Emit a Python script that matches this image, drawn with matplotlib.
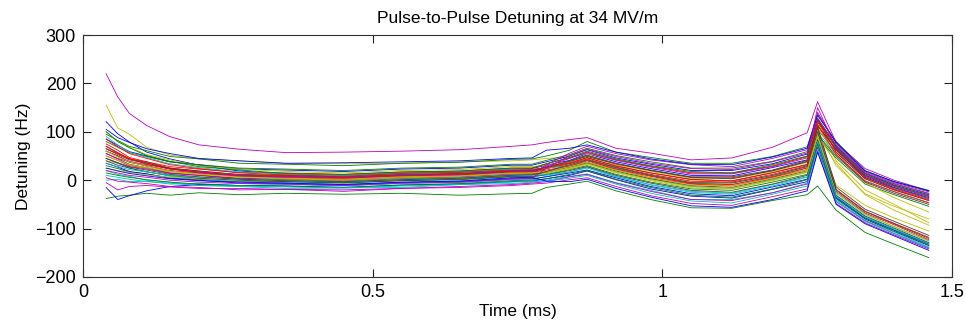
import matplotlib

matplotlib.use("Agg")
import matplotlib.pyplot as plt

# sample times (ms) shared by every pulse trace
t_ms = [0.04, 0.06, 0.08, 0.11, 0.15, 0.20, 0.27, 0.35, 0.45, 0.55, 0.65, 0.74, 0.775,
        0.80, 0.84, 0.87, 0.92, 0.98, 1.05, 1.12, 1.19, 1.25, 1.268, 1.30, 1.35, 1.40, 1.46]

# detuning (Hz) per pulse
p01 = [121, 96, 79, 58, 44, 31, 19, 13, 10, 15, 17, 23, 24, 31, 41, 55, 38, 24, 10, 9, 26, 42, 113, 64, 8, -15, -36]
p02 = [-38, -33, -31, -27, -31, -26, -30, -27, -29, -27, -31, -28, -27, -15, -8, -2, -22, -40, -57, -58, -42, -30, -12, -62, -108, -132, -160]
p03 = [75, 62, 47, 38, 25, 19, 11, 8, 5, 10, 12, 18, 18, 27, 38, 51, 33, 20, 5, 5, 19, 39, 120, 62, 6, -18, -40]
p04 = [0, 2, -3, -2, -8, -7, -11, -9, -12, -7, -5, 1, 1, 8, 17, 27, 8, -9, -23, -27, -9, 7, 82, -32, -75, -101, -130]
p05 = [220, 172, 138, 113, 90, 73, 64, 57, 58, 60, 63, 70, 73, 78, 84, 88, 66, 56, 42, 46, 68, 98, 162, 78, 24, 0, -22]
p06 = [155, 108, 95, 68, 52, 44, 40, 35, 34, 35, 38, 40, 42, 45, 48, 55, 43, 28, 16, 14, 30, 48, 118, 40, -20, -50, -88]
p07 = [60, 50, 37, 30, 19, 14, 7, 5, 2, 7, 9, 15, 15, 24, 35, 47, 29, 15, 2, -2, 16, 32, 105, 58, 3, -20, -42]
p08 = [-15, -40, -32, -22, -13, -9, -11, -12, -15, -10, -8, -3, -2, 3, 10, 19, 1, -18, -33, -37, -19, -3, 75, -38, -80, -106, -135]
p09 = [95, 82, 70, 61, 49, 44, 35, 33, 30, 35, 37, 43, 44, 50, 62, 80, 58, 47, 35, 35, 49, 69, 136, 80, 20, -3, -21]
p10 = [50, 41, 30, 25, 15, 11, 4, 3, 0, 5, 7, 13, 13, 18, 29, 37, 22, 5, -8, -12, 6, 22, 100, -23, -68, -92, -123]
p11 = [20, 12, 8, 0, -4, -11, -13, -17, -16, -15, -9, -7, -4, 0, 8, 13, -5, -21, -40, -40, -26, -6, 70, -41, -83, -107, -138]
p12 = [5, -2, -4, -7, -13, -15, -20, -19, -23, -17, -15, -11, -8, -6, 1, 5, -13, -32, -48, -52, -34, -18, 60, -48, -88, -113, -142]
p13 = [40, 35, 28, 25, 18, 16, 11, 11, 8, 13, 15, 21, 21, 25, 31, 43, 25, 11, -4, -5, 9, 29, 102, 30, -28, -54, -80]
p14 = [70, 57, 44, 36, 23, 17, 9, 7, 4, 9, 11, 17, 17, 27, 40, 52, 35, 21, 7, 7, 21, 41, 112, 63, 5, -16, -38]
p15 = [85, 72, 59, 50, 38, 32, 23, 21, 18, 23, 25, 31, 31, 38, 50, 63, 46, 33, 20, 20, 34, 54, 124, 70, 13, -10, -30]
p16 = [30, 24, 17, 13, 5, 2, -3, -3, -6, -1, 1, 7, 7, 12, 22, 30, 12, -4, -18, -21, -4, 12, 88, 46, -8, -30, -54]
p17 = [65, 55, 44, 38, 28, 23, 16, 15, 12, 17, 19, 25, 25, 34, 46, 58, 42, 29, 15, 15, 29, 49, 128, 67, 10, -12, -33]
p18 = [45, 35, 25, 18, 8, 3, -3, -5, -8, -4, -1, 5, 5, 13, 24, 35, 17, 2, -13, -17, 1, 17, 92, -26, -70, -96, -125]
p19 = [-5, -20, -13, -11, -14, -17, -17, -19, -20, -17, -13, -9, -6, -3, 7, 12, -6, -23, -40, -42, -26, -8, 68, -44, -84, -110, -140]
p20 = [100, 80, 68, 53, 42, 30, 23, 18, 15, 20, 22, 28, 28, 31, 38, 49, 32, 18, 4, 3, 17, 37, 108, 55, -5, -36, -66]
p21 = [55, 44, 33, 26, 15, 10, 3, 1, -2, 3, 5, 11, 11, 16, 27, 36, 19, 3, -11, -15, 3, 19, 93, 50, -4, -27, -50]
p22 = [35, 27, 18, 13, 4, 0, -6, -7, -10, -5, -3, 3, 3, 7, 15, 21, 5, -13, -28, -32, -14, 2, 78, -35, -78, -103, -132]
p23 = [80, 68, 57, 49, 38, 32, 25, 23, 20, 25, 27, 33, 33, 41, 53, 66, 51, 38, 25, 25, 39, 59, 128, 73, 15, -7, -27]
p24 = [60, 50, 39, 32, 23, 17, 10, 9, 6, 11, 13, 19, 19, 24, 34, 44, 27, 12, -2, -4, 12, 30, 110, -19, -64, -89, -118]
p25 = [90, 73, 58, 47, 34, 26, 17, 13, 10, 15, 17, 23, 23, 25, 30, 41, 24, 9, -6, -9, 8, 26, 98, 54, -1, -23, -46]
p26 = [45, 36, 28, 23, 14, 10, 4, 3, 0, 5, 7, 13, 13, 32, 56, 70, 55, 42, 32, 28, 45, 63, 140, 76, 17, -5, -24]
p27 = [25, 20, 16, 11, 6, 3, -1, -1, -4, 1, 3, 9, 9, 14, 23, 33, 15, -1, -16, -18, -1, 16, 89, -27, -71, -96, -126]
p28 = [40, 31, 25, 17, 10, 4, 0, -3, -5, -1, 2, 8, 8, 11, 20, 28, 10, -6, -21, -25, -8, 10, 84, -31, -74, -99, -129]
p29 = [105, 88, 78, 65, 55, 45, 40, 35, 36, 38, 40, 45, 46, 62, 66, 73, 58, 44, 33, 32, 48, 66, 134, 78, 19, -3, -22]
p30 = [15, 10, 6, 1, -4, -8, -11, -12, -15, -10, -7, -1, 0, 3, 12, 20, 2, -15, -31, -35, -18, 1, 76, -37, -79, -104, -134]
p31 = [70, 56, 45, 33, 24, 15, 10, 5, 3, 8, 10, 16, 16, 21, 29, 40, 23, 8, -7, -9, 7, 25, 115, 53, -2, -24, -47]
p32 = [10, 6, 2, -3, -6, -11, -12, -14, -16, -12, -9, -4, -2, -2, 4, 10, -8, -27, -43, -47, -29, -12, 64, -44, -85, -110, -140]
p33 = [55, 45, 38, 29, 20, 15, 9, 7, 5, 10, 12, 18, 18, 29, 45, 57, 41, 27, 13, 13, 28, 46, 150, 66, 9, -13, -34]
p34 = [50, 41, 32, 26, 17, 12, 6, 4, 2, 7, 9, 15, 15, 19, 28, 37, 21, 5, -10, -12, 4, 22, 95, -10, -52, -78, -105]
p35 = [65, 53, 42, 35, 25, 19, 12, 10, 7, 12, 14, 20, 20, 27, 39, 49, 34, 20, 6, 3, 20, 38, 109, -14, -60, -85, -114]
p36 = [25, 19, 14, 9, 3, -1, -4, -6, -9, -4, -2, 5, 6, -2, -3, 2, -17, -35, -53, -56, -40, -22, 58, -50, -90, -115, -145]
p37 = [100, 80, 67, 51, 39, 28, 21, 14, 12, 17, 19, 25, 25, 34, 47, 60, 44, 30, 18, 15, 32, 50, 121, 68, 11, -11, -32]
p38 = [85, 69, 55, 45, 32, 24, 15, 11, 8, 14, 16, 21, 22, 26, 36, 46, 30, 15, 1, -1, 15, 33, 125, 58, 3, -20, -42]
p39 = [35, 28, 22, 17, 10, 6, 2, 0, -3, 2, 5, 11, 11, 11, 17, 25, 7, -10, -25, -29, -12, 6, 80, -33, -76, -101, -131]
p40 = [20, 15, 10, 6, 0, -4, -7, -8, -11, -6, -4, 2, 4, 25, 51, 64, 49, 35, 24, 22, 38, 56, 126, 72, 14, -8, -28]
p41 = [60, 48, 38, 29, 19, 13, 6, 3, 0, 5, 8, 14, 15, 17, 25, 34, 17, 1, -14, -16, 0, 18, 92, 35, -30, -62, -93]
p42 = [45, 36, 27, 21, 12, 7, 2, -1, -3, 1, 4, 10, 11, 18, 32, 42, 26, 10, -5, -6, 10, 28, 100, -20, -65, -90, -120]

pulses = [p01, p02, p03, p04, p05, p06, p07, p08, p09, p10, p11, p12, p13, p14,
          p15, p16, p17, p18, p19, p20, p21, p22, p23, p24, p25, p26, p27, p28,
          p29, p30, p31, p32, p33, p34, p35, p36, p37, p38, p39, p40, p41, p42]

# old matlab colour order: b g r c m y k
line_colors = [(0, 0, 1), (0, 0.5, 0), (1, 0, 0), (0, 0.75, 0.75),
               (0.75, 0, 0.75), (0.75, 0.75, 0), (0.25, 0.25, 0.25)]

plt.rcParams["font.family"] = ["Liberation Sans", "DejaVu Sans"]

fig = plt.figure(figsize=(9.66, 3.25), dpi=100)
ax = fig.add_axes([0.0859, 0.1477, 0.8996, 0.7446])

for i, vals in enumerate(pulses):
    ax.plot(t_ms, vals, color=line_colors[i % len(line_colors)], linewidth=0.6)

ax.set_xlim(0, 1.5)
ax.set_ylim(-200, 300)
ax.set_xticks([0, 0.5, 1, 1.5])
ax.set_xticklabels(["0", "0.5", "1", "1.5"])
ax.set_yticks([-200, -100, 0, 100, 200, 300])

ax.tick_params(direction="in", length=6, width=0.8, top=True, right=True,
               labelsize=13, pad=5, color="#222222")
for side in ax.spines.values():
    side.set_linewidth(0.8)
    side.set_color("#333333")

ax.set_title("Pulse-to-Pulse Detuning at 34 MV/m", fontsize=12.5, pad=9)
ax.set_xlabel("Time (ms)", fontsize=12.5, labelpad=2)
ax.set_ylabel("Detuning (Hz)", fontsize=12.5, labelpad=3)

fig.savefig("out.png", dpi=100)
